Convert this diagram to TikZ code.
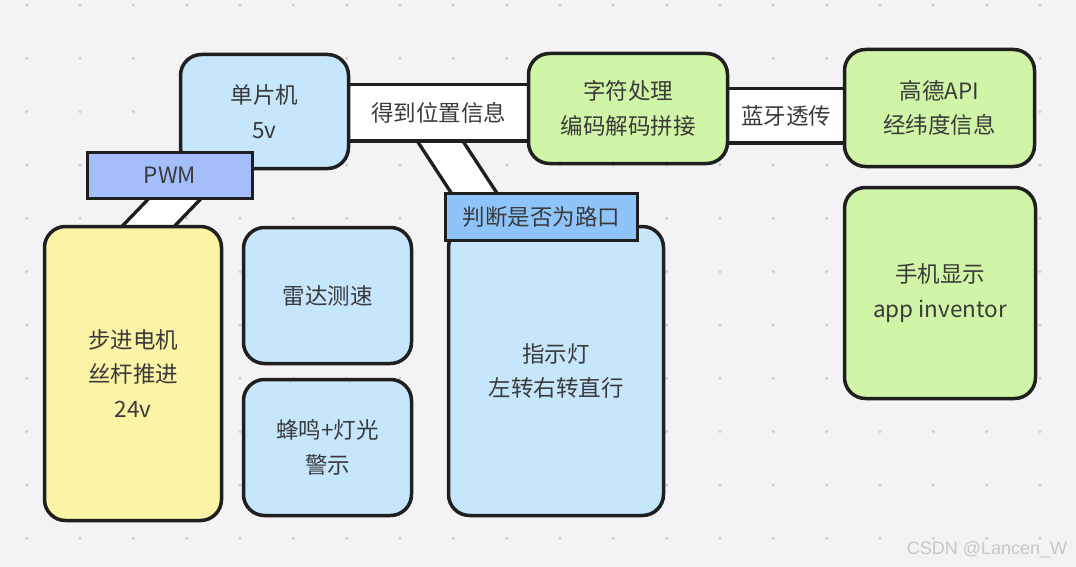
\documentclass[tikz,border=0pt]{standalone}
\usepackage{fontspec}
\setmainfont{Noto Sans CJK SC}
\newfontfamily\wmfont{Liberation Sans}
\definecolor{bgc}{HTML}{F3F3F5}
\definecolor{dotc}{HTML}{CBCBD0}
\definecolor{edge}{HTML}{1F1F1F}
\definecolor{txt}{HTML}{3A3A3A}
\definecolor{lblue}{HTML}{C5E6FB}
\definecolor{lgreen}{HTML}{D0F5A6}
\definecolor{lyellow}{HTML}{FBF3A6}
\definecolor{pwmc}{HTML}{A4BEFC}
\definecolor{judgec}{HTML}{8EC4FA}
\pgfdeclarelayer{grid}
\pgfdeclarelayer{diag}
\pgfdeclarelayer{bands}
\pgfsetlayers{grid,diag,bands,main}
\begin{document}
\begin{tikzpicture}[x=1pt,y=-1pt,
  box/.style={draw=edge,line width=3.5pt,rounded corners=21pt,text=txt,align=center,
    font=\fontsize{22.5}{34.5}\selectfont,inner sep=0pt},
  tag/.style={draw=edge,line width=3.5pt,text=txt,align=center,
    font=\fontsize{22.5}{34.5}\selectfont,inner sep=0pt},
  band/.style={draw=edge,line width=3.5pt,double=white,line cap=butt},
  lbl/.style={text=txt,font=\fontsize{22.5}{34.5}\selectfont,inner sep=0pt}]
\begin{pgfonlayer}{grid}
\fill[bgc] (0,0) rectangle (1076,567);
\foreach \i in {0,...,19}{\foreach \j in {0,...,10}{
  \fill[dotc] (26.7+53.33*\i,5+53.33*\j) circle (1.6pt);}}
\end{pgfonlayer}
\useasboundingbox (0,0) rectangle (1076,567);

% boxes
\node[box,fill=lblue,minimum width=168pt,minimum height=114pt] (mcu) at (264.5,111.5) {单片机\\5v};
\node[box,fill=lgreen,minimum width=199pt,minimum height=110pt] (proc) at (628,108.5) {字符处理\\编码解码拼接};
\node[box,fill=lgreen,minimum width=190pt,minimum height=117pt] (gaode) at (939.5,108) {高德API\\经纬度信息};
\node[box,fill=lgreen,minimum width=191pt,minimum height=211pt] (phone) at (940,293) {手机显示\\app inventor};
\node[box,fill=lyellow,minimum width=177pt,minimum height=294pt] (motor) at (133,373.5) {步进电机\\丝杆推进\\24v};
\node[box,fill=lblue,minimum width=168pt,minimum height=136pt] (radar) at (327.5,295.5) {雷达测速};
\node[box,fill=lblue,minimum width=168pt,minimum height=136pt] (buzz) at (327.5,447.5) {蜂鸣+灯光\\警示};
\node[box,fill=lblue,minimum width=215pt,minimum height=289pt] (light) at (556,371) {指示灯\\左转右转直行};
\node[tag,fill=pwmc,minimum width=165pt,minimum height=46pt] (pwm) at (170,175.5) {PWM};
\node[tag,fill=judgec,minimum width=192pt,minimum height=47pt] (judge) at (541.5,217) {判断是否为路口};

% band end points
\coordinate (d1s) at (423,115);
\coordinate (d1e) at (488.5,215);
\coordinate (d2s) at (194.7,178);
\coordinate (d2e) at (125.4,250);

\begin{pgfonlayer}{bands}
\draw[band,double distance=53pt] ([yshift=-1.5pt]mcu.east) -- node[lbl]{得到位置信息} ([yshift=-4.5pt]proc.west);
\draw[band,double distance=51pt] ([yshift=-7.5pt]proc.east) -- node[lbl]{蓝牙透传} ([yshift=-8pt]gaode.west);
\end{pgfonlayer}
\begin{pgfonlayer}{diag}
\draw[band,double distance=34.5pt] (d1s) -- (d1e);
\draw[band,double distance=34pt] (d2s) -- (d2e);
\end{pgfonlayer}

\node[text=black!22,font=\wmfont\fontsize{18}{20}\selectfont,inner sep=0pt] (wm) at (987,550) {CSDN @Lancen\_W};
\end{tikzpicture}
\end{document}
